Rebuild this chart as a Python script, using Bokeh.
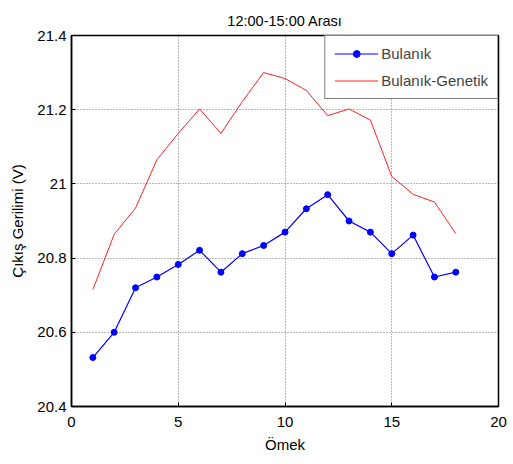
from bokeh.plotting import figure
from bokeh.models import FixedTicker, Range1d, Legend, LegendItem
from bokeh.embed import file_html
from bokeh.resources import INLINE

samples = list(range(1, 19))
bulanik = [20.532, 20.600, 20.720, 20.749, 20.783, 20.821, 20.762, 20.812, 20.834,
           20.870, 20.933, 20.971, 20.900, 20.870, 20.812, 20.862, 20.749, 20.762]
bulanik_genetik = [20.715, 20.864, 20.935, 21.065, 21.136, 21.202, 21.136, 21.222, 21.300,
                   21.284, 21.252, 21.184, 21.202, 21.172, 21.020, 20.972, 20.951, 20.866]
x_ticks = [0, 5, 10, 15, 20]
y_ticks = [20.4, 20.6, 20.8, 21.0, 21.2, 21.4]
y_tick_labels = ["20.4", "20.6", "20.8", "21", "21.2", "21.4"]
title_text = "12:00-15:00 Arası"

FONT = "Liberation Sans"

p = figure(width=513, height=464, output_backend="svg", toolbar_location=None,
           x_range=Range1d(0, 20), y_range=Range1d(20.4, 21.4),
           min_border_left=71, min_border_right=15, min_border_top=35, min_border_bottom=58,
           title=title_text)
p.title.align = "center"
p.title.text_font = FONT
p.title.text_font_size = "14.5px"
p.title.text_font_style = "normal"
p.title.text_color = "black"
p.title.offset = 0
p.title.standoff = 14

p.outline_line_color = "black"
p.outline_line_width = 1.5
p.background_fill_color = "white"
p.border_fill_color = "white"

for ax in (p.xaxis[0], p.yaxis[0]):
    ax.major_label_text_font = FONT
    ax.major_label_text_font_size = "15px"
    ax.axis_label_text_font = FONT
    ax.axis_label_text_font_size = "15px"
    ax.axis_label_text_font_style = "normal"
    ax.axis_label_text_color = "black"
    ax.major_tick_in = 4
    ax.major_tick_out = 0
    ax.minor_tick_line_color = None
    ax.axis_line_width = 1.5
    ax.axis_line_color = "black"
    ax.major_tick_line_color = "black"
    ax.major_label_text_color = "black"

p.xaxis[0].ticker = FixedTicker(ticks=x_ticks)
p.yaxis[0].ticker = FixedTicker(ticks=y_ticks)
p.yaxis[0].major_label_overrides = {t: l for t, l in zip(y_ticks, y_tick_labels)}
p.xaxis[0].axis_label = "Ömek"
p.yaxis[0].axis_label = "Çıkış Gerilimi (V)"
p.xaxis[0].major_label_standoff = 10
p.yaxis[0].major_label_standoff = 5
p.xaxis[0].axis_label_standoff = 6
p.yaxis[0].axis_label_standoff = 8

p.xgrid.ticker = FixedTicker(ticks=x_ticks)
p.ygrid.ticker = FixedTicker(ticks=y_ticks)
p.grid.grid_line_color = "black"
p.grid.grid_line_alpha = 0.55
p.grid.grid_line_dash = "1 2"

l1 = p.line(samples, bulanik, line_color="#0000ff", line_width=1.2)
c1 = p.scatter(samples, bulanik, size=6, fill_color="#0000ff", line_color="#0000ff")
l2 = p.line(samples, bulanik_genetik, line_color="#ff2020", line_width=1)

legend = Legend(items=[LegendItem(label="Bulanık", renderers=[l1, c1]),
                       LegendItem(label="Bulanık-Genetik", renderers=[l2])],
                location="top_right", margin=0, padding=9, spacing=10,
                border_line_color="black", border_line_width=1.5,
                label_text_font=FONT, label_text_font_size="15px",
                glyph_width=44, glyph_height=17, label_standoff=3, background_fill_alpha=1)
p.add_layout(legend, "center")

open("out.html", "w").write(file_html(p, INLINE))
